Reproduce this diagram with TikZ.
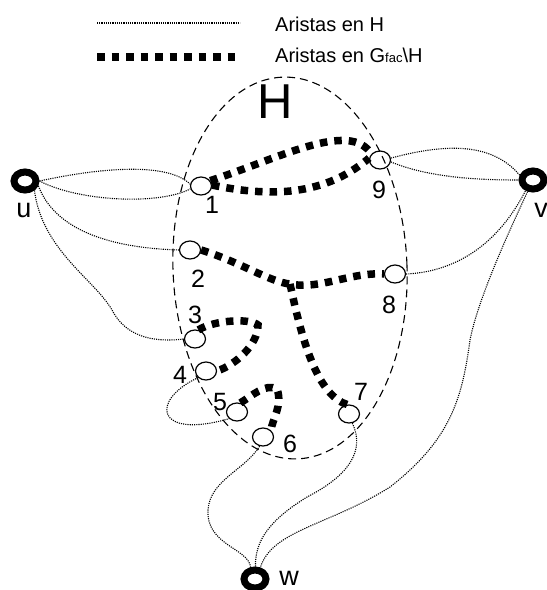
\documentclass[tikz,border=0pt]{standalone}
\usepackage{fontspec}
\setmainfont{Liberation Sans}
\usetikzlibrary{shapes.geometric}
\begin{document}
\begin{tikzpicture}[x=1pt,y=-1pt,
  vtx/.style={draw, ellipse, line width=1.2pt, minimum width=21pt, minimum height=18pt, inner sep=0pt},
  ring/.style={draw, ellipse, line width=7pt, minimum width=22pt, minimum height=18pt, inner sep=0pt},
  lab/.style={font=\fontsize{25}{25}\selectfont, anchor=base, inner sep=0pt},
  lettr/.style={font=\fontsize{27}{27}\selectfont, anchor=base, inner sep=0pt},
  legtxt/.style={font=\fontsize{20}{20}\selectfont, anchor=base west, inner sep=0pt},
  hedge/.style={line width=1.1pt, dash pattern=on 1.1pt off 1.1pt},
  fedge/.style={line width=7.5pt, dash pattern=on 7.5pt off 7pt},
  hull/.style={line width=1.1pt, dash pattern=on 8pt off 5pt}]
\useasboundingbox (0,0) rectangle (547,590);

% legend
\coordinate (a1) at (97,23);
\coordinate (a2) at (240,23);
\coordinate (b1) at (97,57);
\coordinate (b2) at (236,57);
\draw[hedge] (a1) -- (a2);
\draw[fedge] (b1) -- (b2);
\node[legtxt] (leg1) at (275,31) {Aristas en H};
\node[legtxt] (leg2) at (275,62) {Aristas en G{\fontsize{13}{13}\selectfont fac}\textbackslash H};

% set H
\draw[hull, rotate around={2.3:(290,268)}] (290,268) ellipse [x radius=117, y radius=191];
\node[font=\fontsize{49}{49}\selectfont, anchor=base, inner sep=0pt] (Hlab) at (275,118) {H};

% vertices
\node[vtx] (n1) at (201,186) {};
\node[vtx] (n2) at (190,250) {};
\node[vtx] (n3) at (195,339) {};
\node[vtx] (n4) at (206,371) {};
\node[vtx] (n5) at (237,412) {};
\node[vtx] (n6) at (263,437) {};
\node[vtx] (n7) at (349,414) {};
\node[vtx] (n8) at (395,274) {};
\node[vtx] (n9) at (380,160) {};
\node[ring] (u) at (25,181) {};
\node[ring] (v) at (533,180) {};
\node[ring] (w) at (255,579) {};

% labels
\node[lab] (t1) at (212,213) {1};
\node[lab] (t2) at (198,287) {2};
\node[lab] (t3) at (195,323) {3};
\node[lab] (t4) at (180,383) {4};
\node[lab] (t5) at (220,410) {5};
\node[lab] (t6) at (290,452) {6};
\node[lab] (t7) at (361,400) {7};
\node[lab] (t8) at (389,313) {8};
\node[lab] (t9) at (379,198) {9};
\node[lettr] (tu) at (24,217) {u};
\node[lettr] (tv) at (541,217) {v};
\node[lettr] (tw) at (289,585) {w};

% helper coordinates
\coordinate (j) at (290,284);
\coordinate (c34) at (258,325);
\coordinate (c56) at (277,389);
\coordinate (m1) at (112,310);
\coordinate (m2) at (208,510);
\coordinate (m3) at (307,497);
\coordinate (m4) at (470,340);
\coordinate (m5) at (390,487);

% edges in G_fac \ H
\draw[fedge] (n1.30) .. controls (280,158) and (350,120) .. (n9.145);
\draw[fedge] (n1.5) .. controls (260,195) and (320,200) .. (n9.170);
\draw[fedge] (n2.east) .. controls (240,262) and (270,282) .. (j) .. controls (320,290) and (350,272) .. (n8.west);
\draw[fedge] (j) .. controls (300,330) and (315,395) .. (n7.100);
\draw[fedge] (n3.70) .. controls (215,320) and (250,318) .. (c34) .. controls (258,345) and (235,365) .. (n4.east);
\draw[fedge] (n5.70) .. controls (252,396) and (265,383) .. (c56) .. controls (283,405) and (272,420) .. (n6.40);

% edges in H
\draw[hedge] (u.east) .. controls (90,170) and (165,160) .. (n1.170);
\draw[hedge] (u.east) .. controls (80,202) and (160,205) .. (n1.195);
\draw[hedge] (u.-20) .. controls (55,230) and (110,248) .. (n2.west);
\draw[hedge] (u.-45) .. controls (42,250) and (95,280) .. (m1) .. controls (125,335) and (150,343) .. (n3.west);
\draw[hedge] (n4.220) .. controls (150,400) and (155,440) .. (n5.220);
\draw[hedge] (n6.250) .. controls (245,470) and (210,480) .. (m2) .. controls (206,545) and (248,548) .. (w.110);
\draw[hedge] (n7.290) .. controls (365,450) and (350,475) .. (m3) .. controls (270,520) and (255,540) .. (w.88);
\draw[hedge] (v.245) .. controls (505,240) and (478,300) .. (m4) .. controls (462,400) and (450,440) .. (m5) .. controls (330,525) and (272,530) .. (w.65);
\draw[hedge] (n8.east) .. controls (450,272) and (495,250) .. (v.235);
\draw[hedge] (n9.10) .. controls (440,145) and (490,140) .. (v.160);
\draw[hedge] (n9.-10) .. controls (430,178) and (480,180) .. (v.west);
\end{tikzpicture}
\end{document}
